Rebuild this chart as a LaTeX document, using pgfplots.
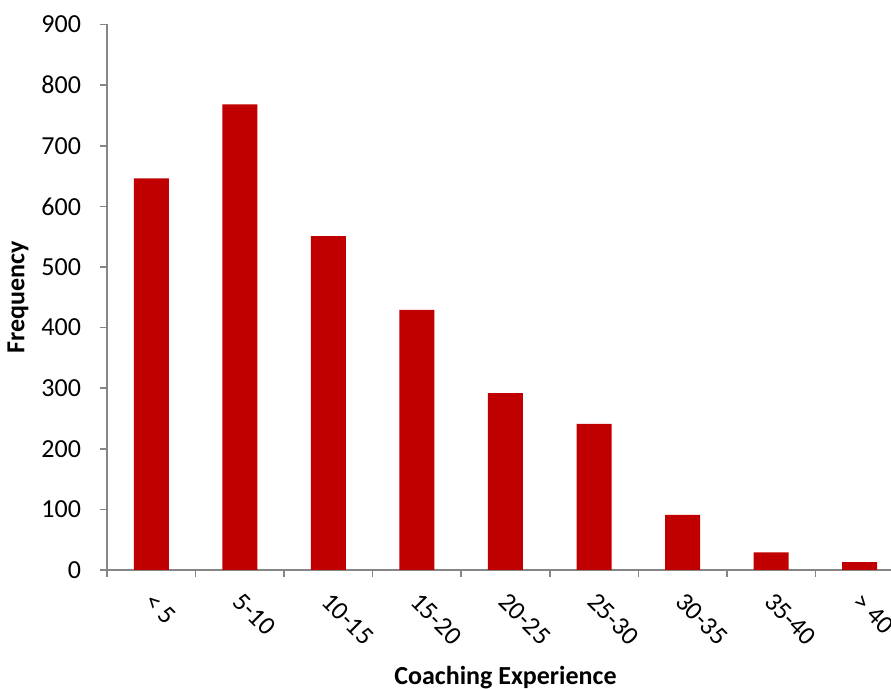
\documentclass[border=0pt]{standalone}
\usepackage{pgfplots}
\pgfplotsset{compat=1.18}
\usepackage{fontspec}
\setmainfont{Carlito}
\definecolor{barred}{RGB}{192,0,0}
\definecolor{axgray}{RGB}{134,134,134}
\begin{document}
\begin{tikzpicture}
\begin{axis}[
  at={(0,0)}, anchor=south west,
  scale only axis,
  width=398.5pt, height=272.75pt,
  xmin=-0.5, xmax=8.5,
  ymin=0, ymax=900,
  ytick={0,100,...,900},
  xtick={0,...,8},
  xticklabels={{< 5},{5-10},{10-15},{15-20},{20-25},{25-30},{30-35},{35-40},{> 40}},
  minor xtick={-0.5,0.5,...,8.5},
  axis lines*=left,
  axis line style={axgray, line width=0.8pt},
  tick align=outside,
  major tick length=3.5pt,
  minor tick length=3.5pt,
  tick style={axgray, line width=0.8pt},
  xtick style={draw=none},
  minor x tick style={axgray, line width=0.8pt, draw=axgray},
  /pgf/number format/assume math mode=true,
  font=\fontsize{13}{15}\selectfont,
  ticklabel style={font=\fontsize{13}{15}\selectfont, text=black},
  yticklabel style={xshift=-6pt},
  xticklabel style={xshift=2pt, yshift=-7pt, rotate=-45, anchor=north west, inner sep=0pt},
  xlabel={\textbf{Coaching Experience}},
  ylabel={\textbf{Frequency}},
  xlabel style={at={(axis description cs:0.5,0)}, anchor=center, yshift=-54pt},
  ylabel style={at={(axis description cs:0,0.5)}, anchor=center, yshift=44.5pt},
  clip=false,
]
\addplot[ybar, bar width=17.5pt, fill=barred, draw=none] coordinates {
  (0,646) (1,768) (2,551) (3,429) (4,292) (5,241) (6,91) (7,29) (8,13)
};
\end{axis}
\pgfresetboundingbox
\path[use as bounding box] (-53.5pt,-59.5pt) rectangle (392pt,285pt);
\end{tikzpicture}
\end{document}
